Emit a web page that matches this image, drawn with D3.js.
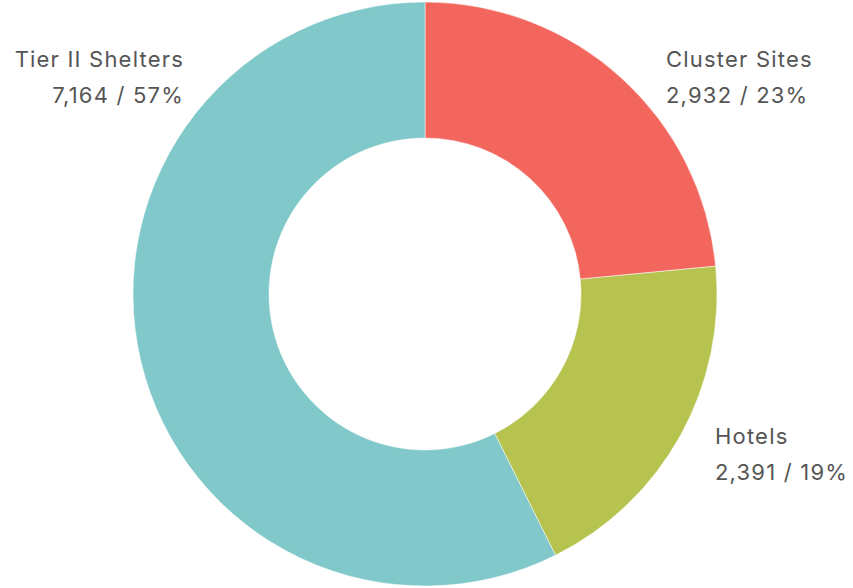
<!DOCTYPE html>
<html>
<head>
<meta charset="utf-8">
<script src="https://cdn.jsdelivr.net/npm/d3@7"></script>
<style>
	body { margin: 0; background: #fff; }
	text { font-family: "Inter", "Open Sans", sans-serif; fill: #555; }
</style>
</head>
<body>
<div class="container"></div>
<script>
var categories = ["Cluster Sites", "Hotels", "Tier II Shelters"];
var counts = [2932, 2391, 7164];
var percents = ["23%", "19%", "57%"];
var colors = ["#f2665e", "#b6c34f", "#80c8c9"];

var width = 853, height = 588;
var cx = 425, cy = 294;
var outer = 292, inner = 156;

var svg = d3.select('.container').append("svg")
	.attr("width", width)
	.attr("height", height);

var data = categories.map(function (c, i) {
	return { name: c, value: counts[i], pct: percents[i], color: colors[i] };
});

var pie = d3.pie()
	.sort(null)
	.value(function (d) { return d.value; });

var arc = d3.arc()
	.innerRadius(inner)
	.outerRadius(outer);

var g = svg.append("g")
	.attr("transform", "translate(" + cx + "," + cy + ")");

g.selectAll("path")
	.data(pie(data))
	.enter()
	.append("path")
		.attr("d", arc)
		.style("fill", function (d) { return d.data.color; })
		.style("stroke", "#fff")
		.style("stroke-width", 0.5);

// label positions, one per category
var labelPos = [
	{ x: 666, y: 67, anchor: "start" },
	{ x: 715, y: 444, anchor: "start" },
	{ x: 184, y: 67, anchor: "end" }
];

var labels = svg.selectAll("text.lbl")
	.data(data)
	.enter()
	.append("text")
		.attr("class", "lbl")
		.attr("x", function (d, i) { return labelPos[i].x; })
		.attr("y", function (d, i) { return labelPos[i].y; })
		.attr("text-anchor", function (d, i) { return labelPos[i].anchor; })
		.style("font-size", "22px")
		.style("letter-spacing", "1.2px");

labels.append("tspan")
	.text(function (d) { return d.name; });

labels.append("tspan")
	.attr("x", function (d, i) { return labelPos[i].x; })
	.attr("dy", 36)
	.text(function (d) { return d3.format(",")(d.value) + " / " + d.pct; });
</script>
</body>
</html>
